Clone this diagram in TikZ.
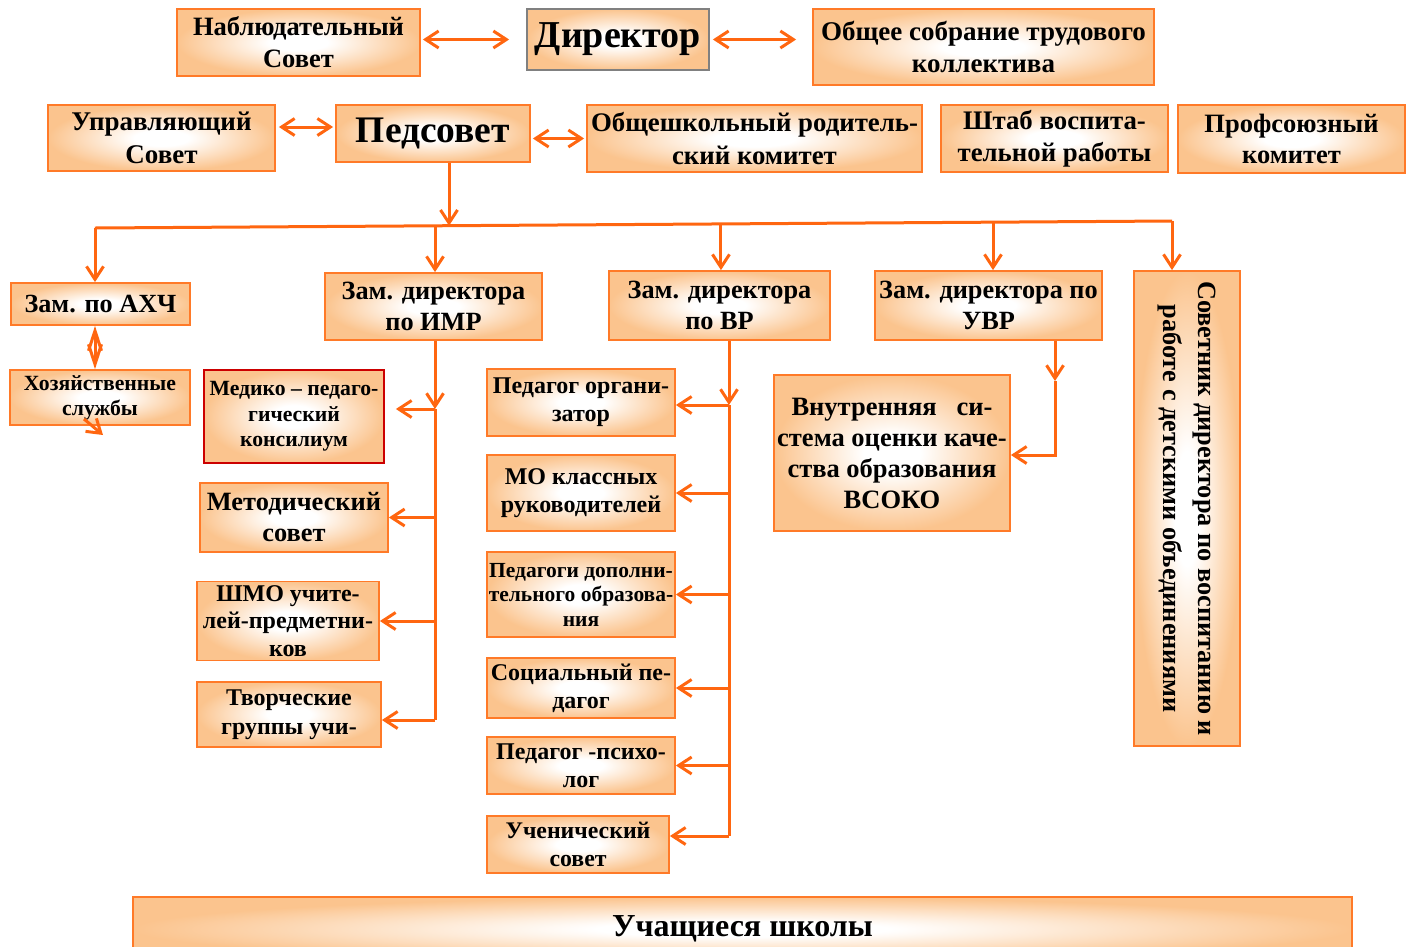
\documentclass[tikz,border=0pt]{standalone}
\usepackage{fontspec}
\setmainfont{Liberation Serif}
\usetikzlibrary{arrows.meta,calc}
\definecolor{peach}{RGB}{251,196,142}
\definecolor{lno}{RGB}{255,102,16}
\definecolor{bdo}{RGB}{255,122,40}
\definecolor{gbd}{RGB}{128,128,128}
\definecolor{rbd}{RGB}{204,0,0}
\pgfdeclareradialshading{bxshade}{\pgfpoint{0bp}{0bp}}{color(0bp)=(white); color(6bp)=(white); color(25bp)=(peach); color(50bp)=(peach)}
\newcommand\fs[1]{\fontsize{#1}{\dimexpr #1pt*6/5\relax}\selectfont\bfseries}
\newcommand\fsl[2]{\fontsize{#1}{#2}\selectfont\bfseries}
\begin{document}
\begin{tikzpicture}[x=1pt,y=-1pt,
 bx/.style={draw=bdo, line width=1.8pt, shade, shading=bxshade, inner sep=0pt, align=center, text=black},
 ln/.style={draw=lno, line width=3pt},
 arr/.style={ln, arrows={-Straight Barb[length=13pt,width=17pt,line width=3pt]}},
 dbl/.style={ln, arrows={Straight Barb[length=13pt,width=17pt,line width=3pt]-Straight Barb[length=13pt,width=17pt,line width=3pt]}},
]
\useasboundingbox (0,0) rectangle (1410,946);

% top row
\node[bx, minimum width=243, minimum height=67, font={\fs{26.5}}] (nab) at (298.5,42.5) {Наблюдательный\\Совет};
\node[bx, draw=gbd, minimum width=182, minimum height=61, font={\fs{38}}] (dir) at (618,39.5) {Директор};
\node[bx, minimum width=341, minimum height=76, font={\fs{27}}] (obsh) at (983.5,47) {Общее собрание трудового\\коллектива};

% second row
\node[bx, minimum width=227, minimum height=66, font={\fs{27}}] (upr) at (161.5,138) {Управляющий\\Совет};
\node[bx, minimum width=194, minimum height=57, font={\fs{37.5}}] (ped) at (433,133.5) {Педсовет};
\node[bx, minimum width=335, minimum height=67, font={\fs{26.8}}] (rod) at (754.5,138.5) {Общешкольный родитель-\\ский комитет};
\node[bx, minimum width=227, minimum height=67, font={\fs{26.8}}] (shtab) at (1054.5,138.5) {Штаб воспита-\\тельной работы};
\node[bx, minimum width=227, minimum height=68, font={\fs{26.5}}] (prof) at (1291.5,139) {Профсоюзный\\комитет};

% deputies
\node[bx, minimum width=179, minimum height=42, font={\fs{26.2}}] (axch) at (100.5,304) {Зам. по АХЧ};
\node[bx, minimum width=217, minimum height=67, font={\fs{26.3}}] (imr) at (433.5,306.5) {Зам. директора\\по ИМР};
\node[bx, minimum width=221, minimum height=69, font={\fs{26.3}}] (vr) at (719.5,305.5) {Зам. директора\\по ВР};
\node[bx, minimum width=227, minimum height=69, font={\fs{26.3}}] (uvr) at (988.5,305.5) {Зам. директора по\\УВР};
\node[bx, rotate=-90, minimum width=475, minimum height=106, font={\fsl{26.3}{35}}] (sov) at (1187,508.5) {Советник директора по воспитанию и\\работе с детскими объединениями};

% left column
\node[bx, minimum width=180, minimum height=55, font={\fsl{21.7}{25}}] (hoz) at (100,397.5) {Хозяйственные\\службы};

% IMR column
\node[bx, draw=rbd, minimum width=180, minimum height=93, font={\fsl{21.7}{25.5}}] (med) at (294,416.5) {Медико – педаго-\\гический\\консилиум};
\node[bx, minimum width=188, minimum height=69, font={\fsl{26.4}{31}}] (met) at (294,517.5) {Методический\\совет};
\node[bx, minimum width=182, minimum height=79, font={\fsl{24}{27.5}}] (shmo) at (288,621) {ШМО учите-\\лей-предметни-\\ков};
\node[bx, minimum width=184, minimum height=65, font={\fsl{24}{29}}] (tvor) at (289,714.5) {Творческие\\группы учи-};

% VR column
\node[bx, minimum width=188, minimum height=67, font={\fsl{24}{28}}] (porg) at (581,402.5) {Педагог органи-\\затор};
\node[bx, minimum width=188, minimum height=76, font={\fsl{24}{28}}] (mo) at (581,493) {МО классных\\руководителей};
\node[bx, minimum width=188, minimum height=85, font={\fsl{21.5}{24.5}}] (pdo) at (581,594.5) {Педагоги дополни-\\тельного образова-\\ния};
\node[bx, minimum width=188, minimum height=60, font={\fsl{24}{28}}] (soc) at (581,688) {Социальный пе-\\дагог};
\node[bx, minimum width=188, minimum height=57, font={\fsl{24}{28}}] (psy) at (581,765.5) {Педагог -психо-\\лог};
\node[bx, minimum width=182, minimum height=57, font={\fsl{23.8}{28}}] (uch) at (578,844.5) {Ученический\\совет};

% UVR
\node[bx, minimum width=236, minimum height=156, font={\fsl{26.5}{31}}] (vsoko) at (892,453) {Внутренняя\ \ \ си-\\стема оценки каче-\\ства образования\\ВСОКО};

% students
\node[bx, minimum width=1219, minimum height=64, font={\fs{32}}] (stud) at (742.5,929) {Учащиеся школы};

% top connectors
\draw[dbl] ($(nab.east |- dir.west)+(2,0)$) -- ($(dir.west)+(-17,0)$);
\draw[dbl] ($(dir.east)+(3,0)$) -- ($(obsh.west |- dir.east)+(-16,0)$);
\draw[dbl] ($(upr.east)+(3,-11)$) -- ($(ped.west |- upr.east)+(-2,-11)$);
\draw[dbl] ($(ped.east |- rod.west)+(2,0)$) -- ($(rod.west)+(-2,0)$);

% bus
\coordinate (busL) at (95,228);
\coordinate (busR) at (1172,221);
\coordinate (bP) at ($(busL)!0.3287!(busR)$);
\coordinate (bI) at ($(busL)!0.3157!(busR)$);
\coordinate (bV) at ($(busL)!0.5812!(busR)$);
\coordinate (bU) at ($(busL)!0.8338!(busR)$);
\draw[ln] (busL) -- (busR);
\draw[arr] (ped.south -| bP) -- (bP);
\draw[arr] (busL) -- (busL |- axch.north);
\draw[arr] (bI) -- (bI |- imr.north);
\draw[arr] (bV) -- (bV |- vr.north);
\draw[arr] (bU) -- (bU |- uvr.north);
\draw[arr] (busR) -- (busR |- sov.west);

% AXCH
\draw[ln, arrows={Straight Barb[length=20pt,width=13pt,line width=3pt]-Straight Barb[length=20pt,width=13pt,line width=3pt]}] (busL |- axch.south) -- (busL |- hoz.north);
\coordinate (hzA) at (84,419);
\coordinate (hzB) at (103,435);
\draw[arr] (hzA) -- (hzB);

% IMR
\coordinate (iT) at (435,409);
\coordinate (iB) at (435,720);
\draw[arr] (imr.south -| iT) -- (iT);
\draw[ln] (iT) -- (iB);
\draw[arr] (iT) -- ($(iT -| med.east)+(11,0)$);
\draw[arr] (iT |- met.east) -- (met.east);
\draw[arr] (iT |- shmo.east) -- (shmo.east);
\draw[arr] (iB) -- (iB -| tvor.east);

% VR
\coordinate (vT) at (729,405);
\coordinate (vB) at (729,836);
\draw[arr] (vr.south -| vT) -- (vT);
\draw[ln] (vT) -- (vB);
\draw[arr] (vT) -- (vT -| porg.east);
\draw[arr] (vT |- mo.east) -- (mo.east);
\draw[arr] (vT |- pdo.east) -- (pdo.east);
\draw[arr] (vT |- soc.east) -- (soc.east);
\draw[arr] (vT |- psy.east) -- (psy.east);
\draw[arr] (vB) -- (vB -| uch.east);

% UVR
\coordinate (uT) at (1055,381);
\coordinate (uC) at (1055,455);
\draw[arr] (uvr.south -| uT) -- (uT);
\draw[arr] (uT) -- (uC) -- (uC -| vsoko.east);
\end{tikzpicture}
\end{document}
